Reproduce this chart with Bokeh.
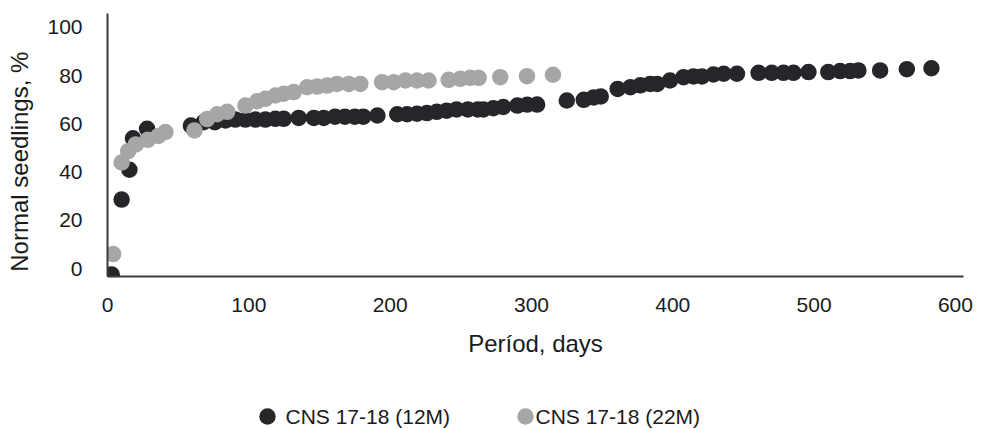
from bokeh.plotting import figure
from bokeh.layouts import column
from bokeh.models import Range1d, FixedTicker
from bokeh.core.properties import value
from bokeh.embed import file_html
from bokeh.resources import INLINE

# ---- data ----
dark_days = [3, 10, 15.5, 18, 28, 59, 68, 76, 83.5, 90.5,
             97.6, 104.7, 111.7, 118.8, 124.7, 135.3, 146, 153, 161, 168,
             175, 181, 191, 205, 212, 219, 226, 233, 240, 247,
             255, 262, 266, 273, 280, 290, 297, 304, 325, 337,
             344, 349, 361, 370, 377, 384, 389, 398, 407.6, 414.6,
             420.6, 428.8, 436, 445.4, 460.7, 470, 478.3, 485.4, 496, 510,
             518.4, 525.5, 531.3, 546.7, 565.6, 583]
dark_vals = [-2.5, 28.6, 41, 54, 58, 59.3, 60.7, 60.7, 61.4, 61.8,
             61.8, 61.8, 61.8, 62.1, 62.1, 62.5, 62.5, 62.5, 63, 63,
             63, 63, 63.5, 64, 64, 64.2, 64.5, 65, 65.5, 66,
             66, 66, 66, 66.5, 67, 67.6, 68, 68, 69.7, 70,
             71, 71.4, 74.5, 75.2, 76, 76.6, 76.6, 78, 79.4, 79.7,
             79.7, 80.5, 80.8, 80.8, 81.2, 81.2, 81.2, 81.2, 81.5, 81.5,
             81.9, 81.9, 82.2, 82.2, 82.7, 83.1]

gray_days = [4, 10, 14.6, 20, 28.5, 36, 41, 61.5, 70.5, 77.6,
             84.7, 97.6, 105.9, 111.7, 118.8, 124.7, 131.8, 141.2, 148.3, 155.4,
             162.4, 170.7, 178.9, 194.3, 202.5, 210.8, 219, 227.2, 241.4, 249.6,
             256.7, 262.6, 277.9, 296.8, 315.2]
gray_vals = [6, 44, 48.7, 51.5, 53.4, 55, 56.6, 57.3, 62, 64,
             65, 67.6, 69.4, 70.4, 71.8, 72.5, 73.2, 75.2, 75.5, 75.9,
             76.6, 76.6, 76.6, 77.3, 77.3, 78, 78, 78, 78.3, 78.7,
             79.1, 79.1, 79.4, 79.8, 80.4]

series_names = ["CNS 17-18 (12M)", "CNS 17-18 (22M)"]
x_ticks = [0, 100, 200, 300, 400, 500, 600]
y_ticks = [0, 20, 40, 60, 80, 100]
x_title = "Períod, days"
y_title = "Normal seedlings, %"

# ---- styling / layout ----
DARK = "#252629"
GRAY = "#a6a6a6"
SERIES_COLORS = [DARK, GRAY]
FONT = "Liberation Sans"
TEXT = "#1a1a1a"
FRAME_LEFT, FRAME_RIGHT = 107, 963   # page pixels of the plot frame
LEGEND_MARKER_PX = [267, 525]        # legend key centres (page pixels)
LEGEND_TEXT_PX = [285, 535]          # legend label starts (page pixels)
LEGEND_ROW_PX = 13                   # legend row, px above strip bottom

# ---- main chart ----
p = figure(width=987, height=380, output_backend="svg", toolbar_location=None,
           x_range=Range1d(0, 605.7), y_range=Range1d(-3.3, 105.8),
           min_border_left=FRAME_LEFT, min_border_right=987 - FRAME_RIGHT,
           min_border_top=13, min_border_bottom=104)
p.grid.visible = False
p.outline_line_color = None

p.scatter(dark_days, dark_vals, size=16.5, fill_color=DARK, line_color=None)
p.scatter(gray_days, gray_vals, size=16.5, fill_color=GRAY, line_color=None)

for ax in (p.xaxis[0], p.yaxis[0]):
    ax.major_tick_line_color = None
    ax.minor_tick_line_color = None
    ax.major_tick_out = 0
    ax.major_tick_in = 0
    ax.minor_tick_out = 0
    ax.minor_tick_in = 0
    ax.axis_line_color = "#3a3a3a"
    ax.axis_line_width = 2
    ax.major_label_text_font = FONT
    ax.major_label_text_font_size = "21px"
    ax.major_label_text_color = TEXT
    ax.axis_label_text_font = FONT
    ax.axis_label_text_font_size = "24px"
    ax.axis_label_text_font_style = "normal"
    ax.axis_label_text_color = TEXT

p.xaxis.ticker = FixedTicker(ticks=x_ticks)
p.yaxis.ticker = FixedTicker(ticks=y_ticks)
p.xaxis.axis_label = x_title
# trailing no-break spaces nudge the rotated title down, as in the original
p.yaxis.axis_label = y_title + "\u00a0" * 5
p.xaxis.major_label_standoff = 21
p.xaxis.axis_label_standoff = 15
p.yaxis.major_label_standoff = 25
p.yaxis.axis_label_standoff = 11

# ---- legend strip below the chart (its frame is aligned with the chart's) ----
lg = figure(width=987, height=49, output_backend="svg", toolbar_location=None,
            x_range=Range1d(FRAME_LEFT, FRAME_RIGHT), y_range=Range1d(0, 49),
            x_axis_type=None, y_axis_type=None, min_border=0)
lg.grid.visible = False
lg.outline_line_color = None
lg.scatter(x=LEGEND_MARKER_PX, y=[LEGEND_ROW_PX] * 2, size=16.5,
           fill_color=SERIES_COLORS, line_color=None)
lg.text(x=LEGEND_TEXT_PX, y=[LEGEND_ROW_PX] * 2, text=series_names,
        text_font=value(FONT), text_font_size="21px", text_color=TEXT,
        text_baseline="middle", text_align="left")

open("out.html", "w").write(file_html(column(p, lg, spacing=0), INLINE))
